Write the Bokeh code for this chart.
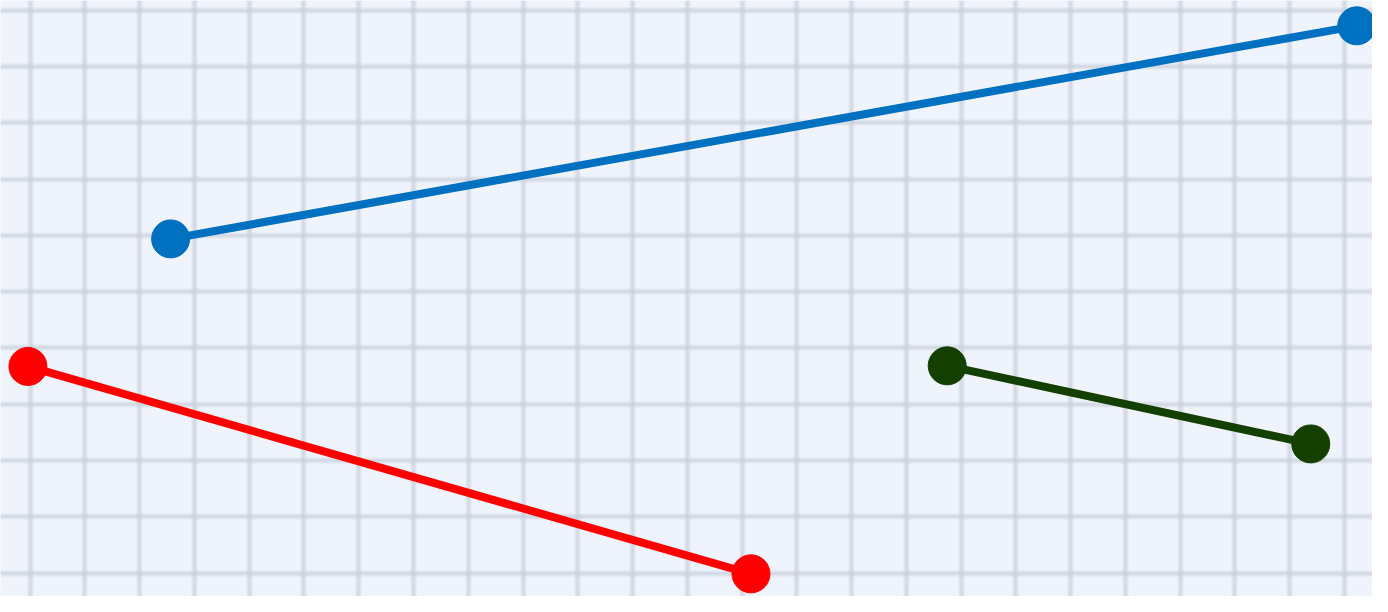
from bokeh.plotting import figure
from bokeh.models import Range1d, FixedTicker, Grid
from bokeh.embed import file_html
from bokeh.resources import INLINE

# Data
blue_x = [12.4, 98.85]
blue_y = [60.0, 95.75]
red_x = [2.0, 54.7]
red_y = [38.6, 3.8]
green_x = [69.0, 95.5]
green_y = [38.7, 25.6]

series = [
    (blue_x, blue_y, "#0070c0"),
    (red_x, red_y, "#ff0000"),
    (green_x, green_y, "#133f00"),
]

W, H = 1372, 596
p = figure(width=W, height=H, x_range=Range1d(0, 100), y_range=Range1d(0, 100),
           output_backend="svg", toolbar_location=None, min_border=0)
p.axis.visible = False
p.outline_line_color = None
p.background_fill_color = "#eff4fc"
p.border_fill_color = "#eff4fc"

# graph-paper background grid (reference frame 1388 x 612)
RW, RH = 1388.0, 612.0
xt = FixedTicker(ticks=[(30 + 55.4 * k) / RW * 100 for k in range(25)])
yt = FixedTicker(ticks=[(RH - (10 + 57.8 * k)) / RH * 100 for k in range(11)])
p.xgrid.ticker = xt
p.ygrid.ticker = yt
for g in (p.xgrid, p.ygrid):
    g.grid_line_color = "#c8d0dc"
    g.grid_line_width = 6
    g.grid_line_alpha = 0.4
for dim, t in ((0, xt), (1, yt)):
    g2 = Grid(dimension=dim, ticker=t, grid_line_color="#c3ccd9",
              grid_line_width=2, grid_line_alpha=0.5)
    p.add_layout(g2)

for xs, ys, c in series:
    p.line(xs, ys, line_width=8, color=c)
    p.scatter(xs, ys, size=38, color=c)

open("out.html", "w").write(file_html(p, INLINE))
